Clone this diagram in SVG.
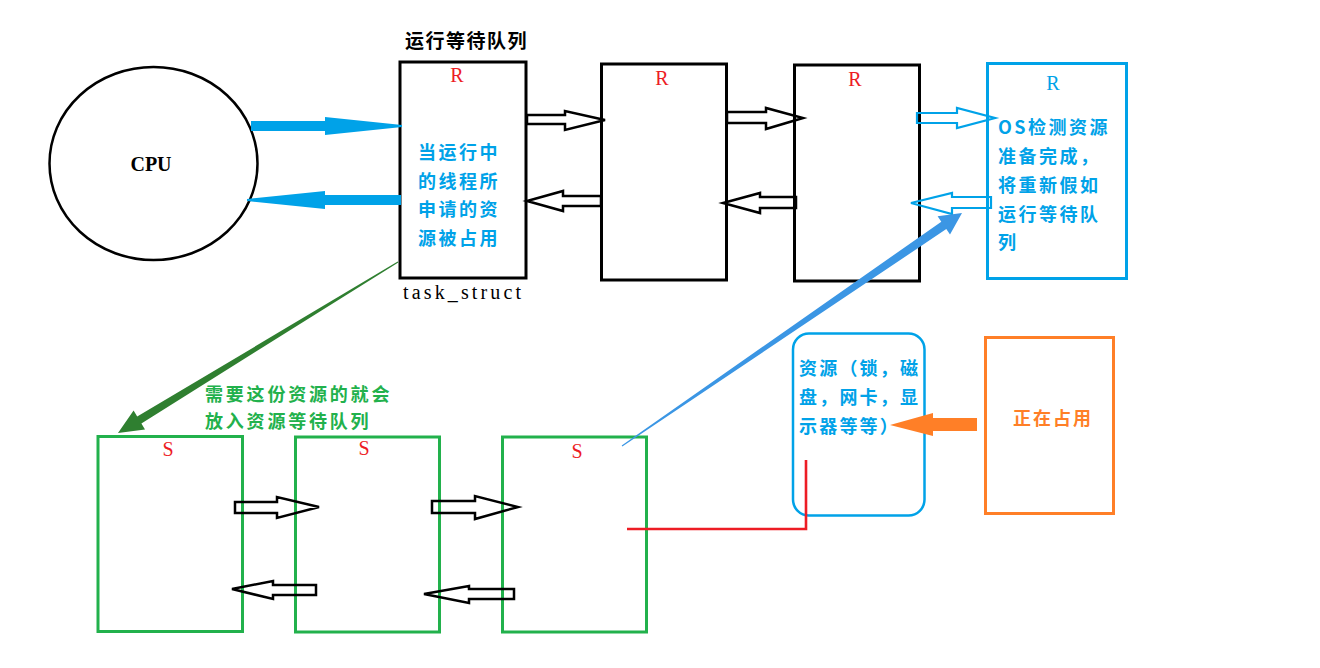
<svg xmlns="http://www.w3.org/2000/svg" width="1320" height="668" viewBox="0 0 1320 668">
<style>
.box{fill:none;stroke:#000;stroke-width:3}
.gbox{fill:none;stroke:#22b14c;stroke-width:3}
.lbl{font-family:"Liberation Serif",serif;font-size:20px;fill:#ed1c24;text-anchor:middle}
.cjk{font-family:"Noto Sans CJK SC",sans-serif;font-weight:bold;font-size:18px;letter-spacing:2.5px}
.blue{fill:#00a2e8}
.harrow{fill:none;stroke:#000;stroke-width:2.5;stroke-linejoin:miter}
.barrow{fill:none;stroke:#00a2e8;stroke-width:2.2}
</style>
<rect width="1320" height="668" fill="#fff"/>

<g id="cpu">
<ellipse cx="153.5" cy="163.5" rx="104" ry="96.5" fill="none" stroke="#000" stroke-width="2.5"/>
<text x="151" y="171" font-family="Liberation Serif, serif" font-weight="bold" font-size="20" text-anchor="middle" fill="#000">CPU</text>
</g>

<g id="title">
<text x="405" y="48" font-family="Noto Sans CJK SC, sans-serif" font-weight="bold" font-size="19" letter-spacing="1.5" fill="#000">运行等待队列</text>
</g>

<g id="r1">
<rect class="box" x="400" y="62" width="126" height="216"/>
<text class="lbl" x="457" y="82">R</text>
<text class="cjk blue" x="418" y="159">当运行中</text>
<text class="cjk blue" x="418" y="187.5">的线程所</text>
<text class="cjk blue" x="418" y="216">申请的资</text>
<text class="cjk blue" x="418" y="244.5">源被占用</text>
<text x="403" y="299" font-family="Liberation Serif, serif" font-size="20" textLength="118" lengthAdjust="spacing" fill="#000">task_struct</text>
</g>

<g id="r2">
<rect class="box" x="601.5" y="64" width="125" height="216"/>
<text class="lbl" x="662" y="85">R</text>
</g>

<g id="r3">
<rect class="box" x="794.5" y="65" width="125" height="216"/>
<text class="lbl" x="855" y="86">R</text>
</g>

<g id="r4">
<rect x="987.5" y="63.5" width="139" height="215" fill="none" stroke="#00a2e8" stroke-width="3"/>
<text class="lbl" x="1053" y="90" style="fill:#00a2e8">R</text>
<text class="cjk blue" x="998" y="134">OS检测资源</text>
<text class="cjk blue" x="998" y="163">准备完成，</text>
<text class="cjk blue" x="998" y="191.5">将重新假如</text>
<text class="cjk blue" x="998" y="220.5">运行等待队</text>
<text class="cjk blue" x="998" y="249">列</text>
</g>

<g id="s1">
<rect class="gbox" x="98" y="436.5" width="144.5" height="195"/>
<text class="lbl" x="168" y="456">S</text>
</g>
<g id="s2">
<rect class="gbox" x="295.5" y="437" width="144" height="195"/>
<text class="lbl" x="364" y="455">S</text>
</g>
<g id="s3">
<rect class="gbox" x="502.5" y="437" width="144" height="195"/>
<text class="lbl" x="577" y="458">S</text>
</g>

<g id="s-label">
<text class="cjk" x="205" y="401" fill="#22b14c" style="letter-spacing:2.8px">需要这份资源的就会</text>
<text class="cjk" x="205" y="428" fill="#22b14c" style="letter-spacing:2.8px">放入资源等待队列</text>
</g>

<g id="resource">
<rect x="793" y="333.5" width="131.5" height="182" rx="16" ry="16" fill="none" stroke="#00a2e8" stroke-width="2.5"/>
<text class="cjk blue" x="799" y="375" style="letter-spacing:2.2px">资源（锁，磁</text>
<text class="cjk blue" x="799" y="404" style="letter-spacing:2.2px">盘，网卡，显</text>
<text class="cjk blue" x="799" y="433" style="letter-spacing:2.2px">示器等等）</text>
</g>

<g id="occupy">
<rect x="985.5" y="337.5" width="128" height="176" fill="none" stroke="#ff7f27" stroke-width="3"/>
<text class="cjk" x="1013" y="425" fill="#ff7f27" style="letter-spacing:2px">正在占用</text>
</g>

<g id="connectors">
<polygon points="251,121 325,121 325,117 402,125 402,127 325,135 325,131 251,131" fill="#00a2e8"/>
<polygon points="401,195 325,195 325,191 247,199 247,201 325,209 325,205 401,205" fill="#00a2e8"/>
<polygon class="harrow" points="527,115 565,115 565,111 605,120 565,130 565,124 527,124"/>
<polygon class="harrow" points="601,196 563,196 563,191 527,201 563,211 563,206 601,206"/>
<polygon class="harrow" points="727,112 766,112 766,108 803,118 766,129 766,123 727,123"/>
<polygon class="harrow" points="796,197 760,197 760,193 723,203 760,213 760,208 796,208"/>
<polygon class="barrow" points="917,113 957,113 957,108 995,118 957,128 957,123 917,123"/>
<polygon class="barrow" points="991,197 952,197 952,193 911,203 952,214 952,208 991,208"/>
<polygon class="harrow" points="235,502 277,502 277,497 319,507 277,518 277,513 235,513"/>
<polygon class="harrow" points="316,585 273,585 273,581 232,589 273,599 273,595 316,595"/>
<polygon class="harrow" points="432,501 475,501 475,496 518,507 475,519 475,513 432,513"/>
<polygon class="harrow" points="514,589 469,589 469,586 424,594 469,603 469,599 514,599"/>
<polygon points="398.3,262.4 141.4,423.4 145,429.4 118,433 133.6,410.6 137.2,416.6 397.7,261.6" fill="#2f7f30"/>
<polygon points="622.3,446.5 946.3,229.1 950,234.5 962,213 937.6,216.3 941.3,221.7 621.7,445.5" fill="#3b96e4"/>
<polyline points="627,529 806,529 806,460" fill="none" stroke="#ed1c24" stroke-width="2.6"/>
<polygon points="977,418 933,418 933,413 890,425 933,436 933,431 977,431" fill="#ff7f27"/>
</g>
</svg>
